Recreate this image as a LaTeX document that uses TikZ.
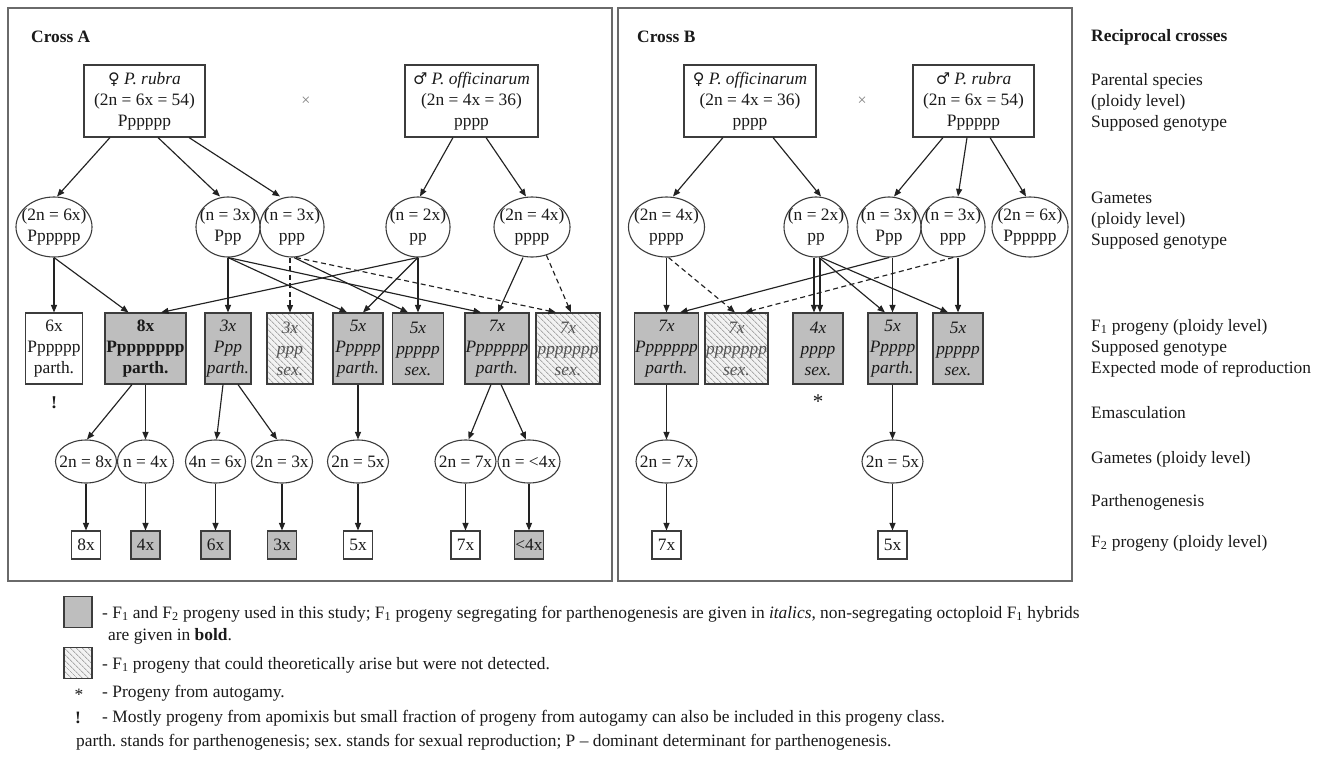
\documentclass[tikz,border=0pt]{standalone}
\usepackage{fontspec}
\setmainfont{Liberation Serif}
\newfontfamily\symfont{DejaVu Serif}
\usetikzlibrary{shapes.geometric,arrows.meta,patterns.meta}
\definecolor{txt}{HTML}{1A1A1A}
\definecolor{bord}{HTML}{3C3C3C}
\definecolor{framec}{HTML}{6A6A6A}
\definecolor{boxgray}{HTML}{BEBEBE}
\definecolor{hatchbg}{HTML}{F2F2F2}
\definecolor{hatchln}{HTML}{AAAAAA}
\definecolor{edgec}{HTML}{222222}
\newcommand\cz[1]{\makebox[0pt]{#1}}
\newcommand\czi[1]{\makebox[0pt]{\itshape #1}}
\newcommand\czb[1]{\makebox[0pt]{\bfseries #1}}
\newcommand\fem{{\symfont\fontsize{16}{21}\selectfont ♀}}
\newcommand\mal{{\symfont\fontsize{16}{21}\selectfont ♂}}
\tikzset{
 txtf/.style={font=\fontsize{17.4}{21}\selectfont\frenchspacing, text=txt},
 nd/.style={txtf, align=center, inner sep=0pt, draw=bord, line width=1.1pt},
 pbox/.style={nd, rectangle, minimum height=72pt},
 gama/.style={nd, ellipse, minimum height=60pt},
 gamb/.style={nd, ellipse, minimum height=43pt},
 fgray/.style={nd, rectangle, fill=boxgray, minimum height=71pt},
 fwhite/.style={nd, rectangle, fill=white, minimum height=71pt},
 hatchfill/.style={preaction={fill=hatchbg}, pattern={Lines[angle=-45,distance=4pt,line width=0.9pt]}, pattern color=hatchln},
 fhatch/.style={nd, rectangle, hatchfill, minimum height=71pt, text=txt!75},
 ftwo/.style={nd, rectangle, minimum width=29pt, minimum height=28pt},
 link/.style={draw=edgec, line width=1.15pt, -{Triangle[length=7.5pt,width=6pt]}},
 dlink/.style={link, dash pattern=on 5pt off 3.5pt},
 frame/.style={draw=framec, line width=1.6pt},
 lab/.style={txtf, align=left, anchor=west, inner sep=0pt},
 labb/.style={lab, font=\fontsize{17.4}{21}\selectfont\frenchspacing\bfseries},
 crosssym/.style={font=\fontsize{16}{16}\selectfont, text=gray, inner sep=0pt}
}
\begin{document}
\begin{tikzpicture}[x=1pt,y=-1pt]
\useasboundingbox[fill=white] (0,0) rectangle (1324,760);

% ---------------- Cross A ----------------
\draw[frame] (8,8) rectangle (612,581);
\node[labb] (tA) at (31,37) {Cross A};
\node[pbox, minimum width=121pt] (rA) at (144.5,101) {\cz{\fem\ \textit{P. rubra}}\\\cz{(2n = 6x = 54)}\\\cz{Pppppp}};
\node[crosssym] (xA) at (306,101) {×};
\node[pbox, minimum width=133pt] (oA) at (471.5,101) {\cz{\mal\ \textit{P. officinarum}}\\\cz{(2n = 4x = 36)}\\\cz{pppp}};

\node[gama, minimum width=76pt] (gA1) at (54,227) {\cz{(2n = 6x)}\\\cz{Pppppp}};
\node[gama, minimum width=64pt] (gA2) at (228,227) {\cz{(n = 3x)}\\\cz{Ppp}};
\node[gama, minimum width=64pt] (gA3) at (292,227) {\cz{(n = 3x)}\\\cz{ppp}};
\node[gama, minimum width=64pt] (gA4) at (418,227) {\cz{(n = 2x)}\\\cz{pp}};
\node[gama, minimum width=76pt] (gA5) at (532,227) {\cz{(2n = 4x)}\\\cz{pppp}};

\node[fwhite, minimum width=57pt] (fA1) at (54,348.5) {\cz{6x}\\\cz{Pppppp}\\\cz{parth.}};
\node[fgray, minimum width=81pt] (fA2) at (145.5,348.5) {\czb{8x}\\\czb{Pppppppp}\\\czb{parth.}};
\node[fgray, minimum width=46pt] (fA3) at (228,348.5) {\czi{3x}\\\czi{Ppp}\\\czi{parth.}};
\node[fhatch, minimum width=46pt] (fA4) at (290,348.5) {\czi{3x}\\\czi{ppp}\\\czi{sex.}};
\node[fgray, minimum width=50pt] (fA5) at (358,348.5) {\czi{5x}\\\czi{Ppppp}\\\czi{parth.}};
\node[fgray, minimum width=51pt] (fA6) at (418,348.5) {\czi{5x}\\\czi{ppppp}\\\czi{sex.}};
\node[fgray, minimum width=64pt] (fA7) at (497,348.5) {\czi{7x}\\\czi{Ppppppp}\\\czi{parth.}};
\node[fhatch, minimum width=64pt] (fA8) at (568,348.5) {\czi{7x}\\\czi{ppppppp}\\\czi{sex.}};
\node[txtf, font=\fontsize{18}{21}\selectfont\bfseries, inner sep=0pt] (bang) at (54,403) {!};

\node[gamb, minimum width=61pt] (hA1) at (86,461.5) {\cz{2n = 8x}};
\node[gamb, minimum width=56pt] (hA2) at (145.5,461.5) {\cz{n = 4x}};
\node[gamb, minimum width=60pt] (hA3) at (215.5,461.5) {\cz{4n = 6x}};
\node[gamb, minimum width=61pt] (hA4) at (282,461.5) {\cz{2n = 3x}};
\node[gamb, minimum width=61pt] (hA5) at (358,461.5) {\cz{2n = 5x}};
\node[gamb, minimum width=61pt] (hA6) at (465.5,461.5) {\cz{2n = 7x}};
\node[gamb, minimum width=62pt] (hA7) at (529,461.5) {\cz{n = <4x}};

\node[ftwo] (kA1) at (86,545) {\cz{8x}};
\node[ftwo, fill=boxgray] (kA2) at (145.5,545) {\cz{4x}};
\node[ftwo, fill=boxgray] (kA3) at (215.5,545) {\cz{6x}};
\node[ftwo, fill=boxgray] (kA4) at (282,545) {\cz{3x}};
\node[ftwo] (kA5) at (358,545) {\cz{5x}};
\node[ftwo] (kA6) at (465.5,545) {\cz{7x}};
\node[ftwo, fill=boxgray] (kA7) at (529,545) {\cz{<4x}};

\draw[link] ([xshift=-34.5pt]rA.south) -- ([xshift=3pt]gA1.north);
\draw[link] ([xshift=13.5pt]rA.south) -- ([xshift=-8pt]gA2.north);
\draw[link] ([xshift=44.5pt]rA.south) -- ([xshift=-12pt]gA3.north);
\draw[link] ([xshift=-18.5pt]oA.south) -- ([xshift=2pt]gA4.north);
\draw[link] ([xshift=14.5pt]oA.south) -- ([xshift=-6pt]gA5.north);

\draw[link] (gA1.south) -- (fA1.north);
\draw[link] (gA1.south) -- ([xshift=-17pt]fA2.north);
\draw[link] (gA2.south) -- (fA3.north);
\draw[link] (gA2.south) -- ([xshift=-11pt]fA5.north);
\draw[link] (gA2.south) -- ([xshift=-16pt]fA7.north);
\draw[dlink] (fA4.north |- gA3.south) -- (fA4.north);
\draw[link] ([xshift=2pt]gA3.south) -- ([xshift=-10pt]fA6.north);
\draw[dlink] ([xshift=4pt]gA3.south) -- ([xshift=-12pt]fA8.north);
\draw[link] (gA4.south) -- ([xshift=15.5pt]fA2.north);
\draw[link] (gA4.south) -- ([xshift=5pt]fA5.north);
\draw[link] (gA4.south) -- (fA6.north);
\draw[link] ([xshift=-9pt]gA5.south) -- ([xshift=1pt]fA7.north);
\draw[dlink] (gA5.-63) -- ([xshift=3pt]fA8.north);

\draw[link] ([xshift=-13.5pt]fA2.south) -- ([xshift=1pt]hA1.north);
\draw[link] (fA2.south) -- (hA2.north);
\draw[link] ([xshift=-5pt]fA3.south) -- ([xshift=1pt]hA3.north);
\draw[link] ([xshift=10pt]fA3.south) -- ([xshift=-5pt]hA4.north);
\draw[link] (fA5.south) -- (hA5.north);
\draw[link] ([xshift=-6pt]fA7.south) -- ([xshift=3pt]hA6.north);
\draw[link] ([xshift=4pt]fA7.south) -- ([xshift=-3pt]hA7.north);

\draw[link] (hA1) -- (kA1);
\draw[link] (hA2) -- (kA2);
\draw[link] (hA3) -- (kA3);
\draw[link] (hA4) -- (kA4);
\draw[link] (hA5) -- (kA5);
\draw[link] (hA6) -- (kA6);
\draw[link] (hA7) -- (kA7);

% ---------------- Cross B ----------------
\draw[frame] (618,8) rectangle (1072,581);
\node[labb] (tB) at (637,37) {Cross B};
\node[pbox, minimum width=132pt] (oB) at (750,101) {\cz{\fem\ \textit{P. officinarum}}\\\cz{(2n = 4x = 36)}\\\cz{pppp}};
\node[crosssym] (xB) at (862,101) {×};
\node[pbox, minimum width=121pt] (rB) at (973.5,101) {\cz{\mal\ \textit{P. rubra}}\\\cz{(2n = 6x = 54)}\\\cz{Pppppp}};

\node[gama, minimum width=76pt] (gB1) at (666.5,227) {\cz{(2n = 4x)}\\\cz{pppp}};
\node[gama, minimum width=64pt] (gB2) at (816,227) {\cz{(n = 2x)}\\\cz{pp}};
\node[gama, minimum width=64pt] (gB3) at (889,227) {\cz{(n = 3x)}\\\cz{Ppp}};
\node[gama, minimum width=64pt] (gB4) at (953,227) {\cz{(n = 3x)}\\\cz{ppp}};
\node[gama, minimum width=76pt] (gB5) at (1030,227) {\cz{(2n = 6x)}\\\cz{Pppppp}};

\node[fgray, minimum width=64pt] (fB1) at (666.5,348.5) {\czi{7x}\\\czi{Ppppppp}\\\czi{parth.}};
\node[fhatch, minimum width=63pt] (fB2) at (736.5,348.5) {\czi{7x}\\\czi{ppppppp}\\\czi{sex.}};
\node[fgray, minimum width=50pt] (fB3) at (818,348.5) {\czi{4x}\\\czi{pppp}\\\czi{sex.}};
\node[fgray, minimum width=49pt] (fB4) at (892.5,348.5) {\czi{5x}\\\czi{Ppppp}\\\czi{parth.}};
\node[fgray, minimum width=50pt] (fB5) at (958,348.5) {\czi{5x}\\\czi{ppppp}\\\czi{sex.}};
\node[txtf, font=\fontsize{21}{21}\selectfont, inner sep=0pt] (star) at (818,402) {*};

\node[gamb, minimum width=61pt] (hB1) at (666.5,461.5) {\cz{2n = 7x}};
\node[gamb, minimum width=61pt] (hB2) at (892.5,461.5) {\cz{2n = 5x}};
\node[ftwo] (kB1) at (666.5,545) {\cz{7x}};
\node[ftwo] (kB2) at (892.5,545) {\cz{5x}};

\draw[link] ([xshift=-27pt]oB.south) -- ([xshift=6.5pt]gB1.north);
\draw[link] ([xshift=23pt]oB.south) -- ([xshift=5pt]gB2.north);
\draw[link] ([xshift=-30.5pt]rB.south) -- ([xshift=5pt]gB3.north);
\draw[link] ([xshift=-6.5pt]rB.south) -- ([xshift=5pt]gB4.north);
\draw[link] ([xshift=16.5pt]rB.south) -- ([xshift=-4pt]gB5.north);

\draw[link] (gB1.south) -- (fB1.north);
\draw[dlink] ([xshift=2pt]gB1.south) -- ([xshift=-1.5pt]fB2.north);
\draw[link] ([xshift=-2pt]gB2.south) -- ([xshift=-2pt]gB2.south |- fB3.north);
\draw[link] ([xshift=4pt]gB2.south) -- ([xshift=4pt]gB2.south |- fB3.north);
\draw[link] ([xshift=3pt]gB2.south) -- ([xshift=-7.5pt]fB4.north);
\draw[link] ([xshift=5pt]gB2.south) -- ([xshift=-10pt]fB5.north);
\draw[link] (gB3.south) -- ([xshift=13.5pt]fB1.north);
\draw[link] (fB4.north |- gB3.south) -- (fB4.north);
\draw[dlink] (gB4.south) -- ([xshift=8.5pt]fB2.north);
\draw[link] (fB5.north |- gB4.south) -- (fB5.north);

\draw[link] (fB1) -- (hB1);
\draw[link] (hB1) -- (kB1);
\draw[link] (fB4) -- (hB2);
\draw[link] (hB2) -- (kB2);

% ---------------- Row labels ----------------
\node[labb] (rl0) at (1091,37) {Reciprocal crosses};
\node[lab] (rl1) at (1091,102) {Parental species\\(ploidy level)\\Supposed genotype};
\node[lab] (rl2) at (1091,221) {Gametes\\(ploidy level)\\Supposed genotype};
\node[lab] (rl3) at (1091,348) {F\textsubscript{1} progeny (ploidy level)\\Supposed genotype\\Expected mode of reproduction};
\node[lab] (rl4) at (1091,413) {Emasculation};
\node[lab] (rl5) at (1091,459) {Gametes (ploidy level)};
\node[lab] (rl6) at (1091,502) {Parthenogenesis};
\node[lab] (rl7) at (1091,543) {F\textsubscript{2} progeny (ploidy level)};

% ---------------- Legend ----------------
\node[nd, fill=boxgray, minimum width=28pt, minimum height=31pt] (lg1) at (78,612) {};
\node[lab] (lt1) at (102,614) {- F\textsubscript{1} and F\textsubscript{2} progeny used in this study; F\textsubscript{1} progeny segregating for parthenogenesis are given in \textit{italics}, non-segregating octoploid F\textsubscript{1} hybrids};
\node[lab] (lt1b) at (108,636) {are given in \textbf{bold}.};
\node[nd, hatchfill, minimum width=28pt, minimum height=31pt] (lg2) at (78,663) {};
\node[lab] (lt2) at (102,665) {- F\textsubscript{1} progeny that could theoretically arise but were not detected.};
\node[txtf, inner sep=0pt] (ls) at (79,695) {*};
\node[lab] (lt3) at (102,693) {- Progeny from autogamy.};
\node[txtf, font=\fontsize{17.4}{21}\selectfont\bfseries, inner sep=0pt] (lb) at (78,718) {!};
\node[lab] (lt4) at (102,718) {- Mostly progeny from apomixis but small fraction of progeny from autogamy can also be included in this progeny class.};
\node[lab] (lt5) at (76,742) {parth. stands for parthenogenesis; sex. stands for sexual reproduction; P – dominant determinant for parthenogenesis.};
\end{tikzpicture}
\end{document}
